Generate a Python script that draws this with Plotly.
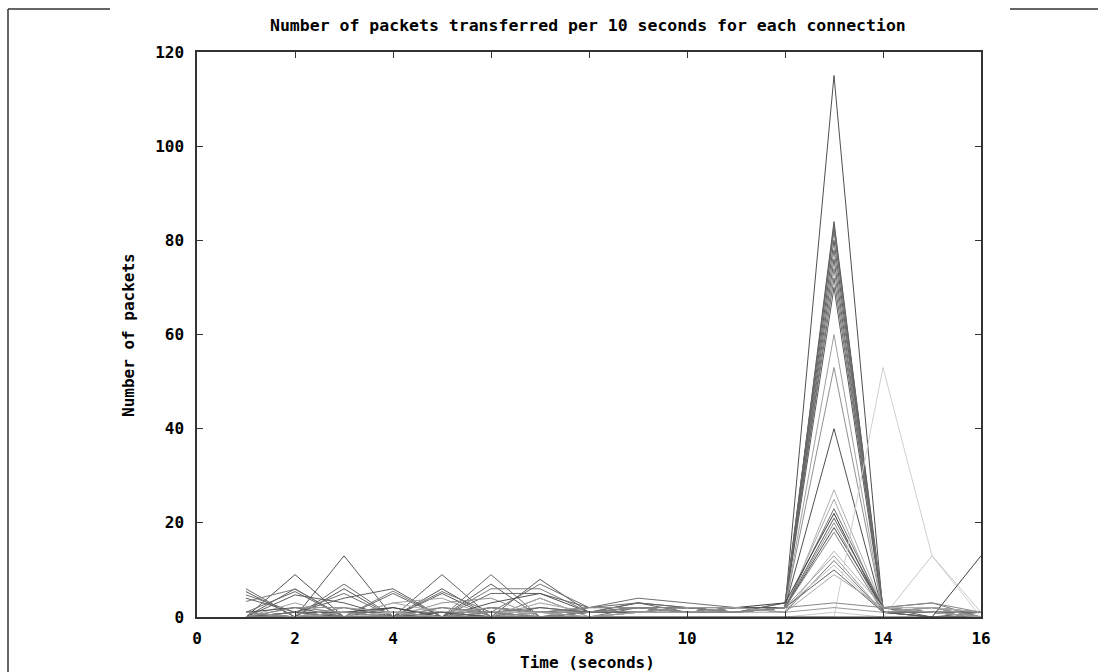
import plotly.graph_objects as go

times = list(range(1, 17))

series_values = [
    [0, 9, 0, 1, 0, 2, 1, 1, 2, 1, 1, 2, 115, 1, 0, 0],
    [1, 0, 13, 0, 1, 0, 0, 1, 1, 2, 1, 2, 84, 1, 0, 0],
    [0, 6, 0, 0, 9, 0, 1, 1, 3, 1, 1, 2, 83, 2, 0, 0],
    [6, 0, 7, 0, 0, 9, 0, 0, 2, 2, 1, 3, 82, 1, 1, 0],
    [5.4, 0, 6, 0, 6, 0, 8, 1, 2, 1, 1, 2, 80, 1, 1, 1],
    [4.7, 1, 5, 0, 5.4, 1, 7, 2, 4, 3, 2, 2, 78, 2, 1, 0],
    [4, 1, 4, 6, 0, 7, 0, 1, 3, 2, 2, 2, 76, 1, 0, 1],
    [3.3, 5.9, 0, 5.5, 0, 6, 6, 1, 2, 2, 1, 2, 74, 2, 3, 0],
    [1, 5.4, 0, 5, 0, 5, 5, 2, 3, 2, 1, 3, 72, 2, 2, 1],
    [0, 4.7, 3, 0, 5, 0, 4, 0, 1, 2, 2, 2, 70, 1, 2, 0],
    [0, 3, 0, 3, 4, 0, 3, 1, 2, 1, 2, 2, 60, 1, 2, 1],
    [0, 2, 2, 0, 3, 4, 0, 2, 2, 1, 1, 2, 53, 1, 1, 0],
    [1, 2, 0, 2, 0, 3, 5, 1, 2, 1, 2, 2, 40, 1, 1, 1],
    [0, 1, 1, 1, 2, 0, 4, 0, 1, 2, 1, 1, 27, 2, 1, 0],
    [0, 1, 0, 3, 1, 2, 0, 2, 2, 1, 2, 2, 25, 1, 1, 0],
    [1, 0, 2, 0, 2, 1, 2, 1, 1, 2, 1, 2, 23, 2, 2, 1],
    [0, 1, 1, 2, 0, 2, 1, 2, 2, 1, 2, 3, 22, 1, 1, 0],
    [1, 0, 1, 1, 1, 0, 2, 1, 1, 2, 1, 2, 21, 2, 1, 1],
    [0, 1, 0, 1, 0, 1, 1, 2, 2, 1, 1, 2, 20, 1, 2, 0],
    [0, 0, 1, 0, 1, 0, 1, 1, 1, 1, 2, 2, 19, 2, 1, 1],
    [0, 1, 0, 0, 1, 1, 0, 1, 2, 2, 1, 2, 18, 1, 1, 0],
    [0, 0, 0, 1, 0, 1, 1, 0, 1, 1, 1, 1, 14, 2, 2, 1],
    [0, 1, 0, 0, 0, 0, 1, 1, 1, 1, 1, 2, 13, 1, 1, 0],
    [0, 0, 1, 0, 0, 1, 0, 1, 1, 2, 2, 1, 12, 1, 1, 1],
    [0, 0, 0, 1, 0, 0, 0, 0, 1, 1, 1, 2, 11, 1, 1, 0],
    [0, 1, 0, 0, 1, 0, 0, 1, 1, 1, 1, 2, 10, 1, 1, 0],
    [0, 0, 1, 0, 0, 0, 1, 0, 1, 1, 2, 1, 9, 2, 1, 0],
    [0, 0, 0, 0, 0, 0, 0, 0, 0, 0, 0, 0, 0, 53, 13, 0],
    [0, 0, 0, 0, 0, 0, 0, 0, 0, 0, 0, 0, 1, 0, 13, 1],
    [0, 0, 0, 0, 0, 0, 0, 0, 0, 0, 0, 0, 0, 0, 0, 13],
    [0, 2, 1, 0, 2, 1, 0, 1, 2, 1, 1, 2, 3, 2, 3, 1],
    [1, 0, 2, 1, 0, 2, 1, 0, 1, 2, 2, 1, 2, 1, 2, 0],
]

series_colors = [
    "#505050", "#585858", "#606060", "#6a6a6a", "#585858",
    "#707070", "#606060", "#7a7a7a", "#686868", "#5a5a5a",
    "#a0a0a0", "#909090", "#505050", "#b0b0b0", "#a8a8a8",
    "#707070", "#404040", "#606060", "#909090", "#505050",
    "#808080", "#b8b8b8", "#a0a0a0", "#787878", "#c0c0c0",
    "#606060", "#a8a8a8",
    "#d0d0d0", "#c8c8c8", "#404040", "#888888", "#9a9a9a",
]

title_text = "Number of packets transferred per 10 seconds for each connection"
x_title = "Time (seconds)"
y_title = "Number of packets"

fig = go.Figure()
for vals, col in zip(series_values, series_colors):
    fig.add_trace(go.Scatter(x=times, y=vals, mode="lines",
                             line=dict(color=col, width=1), showlegend=False,
                             hoverinfo="skip"))

FAM = "DejaVu Sans Mono"
font_main = dict(family=FAM, size=16, color="#000000", weight="bold")

L, R, T, B = 197, 981, 52, 617
W, H = 1098, 672


def px(x):
    return (x - L) / (R - L)


def py(y):
    return (B - y) / (B - T)


fig.update_layout(
    width=W, height=H,
    margin=dict(l=L, r=W - R, t=T, b=H - B),
    paper_bgcolor="white", plot_bgcolor="white",
    font=font_main,
    xaxis=dict(range=[0, 16], dtick=2, tick0=0, ticks="inside", ticklen=6,
               tickcolor="#333", showline=True, linecolor="#333", linewidth=1.5,
               mirror="ticks", showgrid=False, zeroline=False,
               tickfont=font_main, ticklabelstandoff=6),
    yaxis=dict(range=[0, 120], dtick=20, tick0=0, ticks="inside", ticklen=6,
               tickcolor="#333", showline=True, linecolor="#333", linewidth=1.5,
               mirror="ticks", showgrid=False, zeroline=False,
               tickfont=font_main, ticklabelstandoff=8),
    annotations=[
        dict(text=title_text, xref="paper", yref="paper", x=px(588), y=py(25),
             xanchor="center", yanchor="middle", showarrow=False,
             font=dict(family=FAM, size=16.5, color="#000", weight="bold")),
        dict(text=x_title, xref="paper", yref="paper", x=px(587), y=py(662),
             xanchor="center", yanchor="middle", showarrow=False, font=font_main),
        dict(text=y_title, xref="paper", yref="paper", x=px(128), y=py(335),
             xanchor="center", yanchor="middle", showarrow=False, textangle=-90,
             font=font_main),
    ],
    shapes=[
        dict(type="line", xref="paper", yref="paper", x0=px(8), x1=px(110),
             y0=py(9), y1=py(9), line=dict(color="#333", width=1.5)),
        dict(type="line", xref="paper", yref="paper", x0=px(8), x1=px(8),
             y0=py(9), y1=py(672), line=dict(color="#333", width=1.5)),
        dict(type="line", xref="paper", yref="paper", x0=px(1010), x1=px(1098),
             y0=py(9), y1=py(9), line=dict(color="#333", width=1.5)),
    ],
)

fig.write_html("out.html")
